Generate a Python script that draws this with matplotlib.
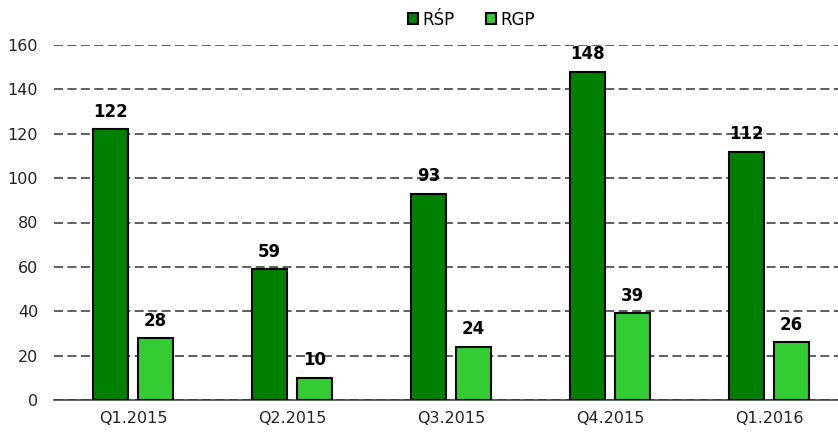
import matplotlib
matplotlib.use("Agg")
import matplotlib.pyplot as plt
import numpy as np

categories = ["Q1.2015", "Q2.2015", "Q3.2015", "Q4.2015", "Q1.2016"]
rsp = [122, 59, 93, 148, 112]
rgp = [28, 10, 24, 39, 26]
series_names = ["RŚP", "RGP"]
colors = ["#008000", "#33CC33"]

plt.rcParams['font.family'] = ['DejaVu Sans']
fig = plt.figure(figsize=(8.38, 4.34), dpi=100)
ax = fig.add_axes([53.5/838, 34/434, 795/838, 355/434])

x = np.arange(len(categories))
w = 0.22
off = 0.1415
for vals, name, c, o in zip([rsp, rgp], series_names, colors, [-off, off]):
    bars = ax.bar(x + o, vals, w, color=c, edgecolor="black", linewidth=1.5, label=name, zorder=3)
    for b, v in zip(bars, vals):
        ax.annotate(str(v), (b.get_x() + b.get_width()/2, v), xytext=(0, 6), textcoords="offset points",
                    ha="center", va="bottom", fontsize=12, fontweight="bold", zorder=4)

ax.set_xlim(-0.5, len(categories) - 0.5)
ax.set_ylim(0, 160)
ax.set_yticks(range(0, 161, 20))
ax.set_xticks(x)
ax.set_xticklabels(categories)
ax.yaxis.grid(True, linestyle=(0, (5.9, 2.9)), color="#333333", linewidth=1.1, zorder=0)
for s in ["top", "right", "left"]:
    ax.spines[s].set_visible(False)
ax.spines["bottom"].set_color("#333333")
ax.spines["bottom"].set_linewidth(1.1)
ax.spines["bottom"].set_zorder(0)
ax.tick_params(axis="both", length=0, labelsize=11.5, colors="#222222")
ax.tick_params(axis="y", pad=11)
ax.tick_params(axis="x", pad=8)

fig.legend(loc="upper center", bbox_to_anchor=(0.563, 1.01), ncol=2, frameon=False, fontsize=12,
           handlelength=0.6, handleheight=0.6, handletextpad=0.25, columnspacing=1.9)
fig.savefig("out.png", dpi=100)
